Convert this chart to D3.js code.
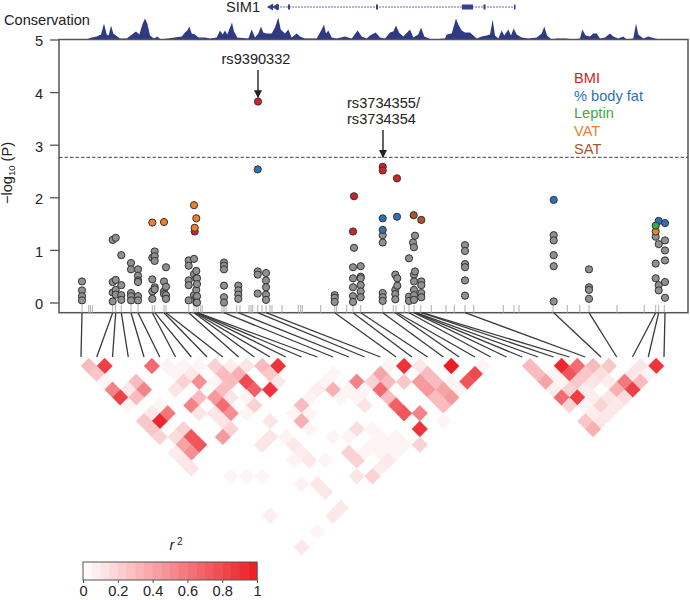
<!DOCTYPE html>
<html>
<head>
<meta charset="utf-8">
<script src="https://cdn.jsdelivr.net/npm/d3@7"></script>
<style>
html, body { margin: 0; padding: 0; background: #fff; }
svg { display: block; }
text { font-family: "Liberation Sans", Arial, sans-serif; fill: #222; }
</style>
</head>
<body>
<svg width="690" height="600"></svg>
<script>
// association results, [position, -log10 P]
const grayPoints = [
  [82,.40],[82,.23],[82,.12],[82,.04],
  [112.7,1.19],[112.7,.39],[112.7,.19],[112.7,.02],[115.7,1.23],[115.7,.43],[115.7,.24],[115.7,.15],
  [121.3,.90],[121.3,.33],[121.3,.14],[121.3,.05],
  [131,.75],[131,.63],[131,.18],[131,.12],[131,.04],
  [138,.63],[138,.51],[138,.42],[138,.39],[138,.12],[138,.04],
  [152.3,.85],[152.3,.44],[152.3,.21],[152.3,.07],[154.7,.97],[154.7,.88],[154.7,.79],[154.7,.29],[154.7,.25],
  [164,.40],[164,.21],[164,.16],[166,.67],[166,.30],[166,.14],[166,.07],
  [188.7,.80],[188.7,.70],[188.7,.42],[188.7,.33],[188.7,.04],
  [194,.83],[194,.54],[194,.14],[196.3,.60],[196.3,.46],[196.3,.24],[196.3,.10],[196.3,0],[197,.46],[197,.35],[197,.12],[197,0],
  [224,.76],[224,.70],[224,.63],[224,.32],[224,.10],[224,0],
  [238.3,.32],[238.3,.23],[238.3,.15],[238.3,.07],
  [257.7,.59],[257.7,.53],[257.7,.17],
  [266,.56],[266,.42],[266,.29],[266,.15],[266,.05],
  [334.7,.14],[334.7,.09],[334.7,.01],
  [353,.67],[353,.46],[353,.29],[353,.12],[353,.01],[354,1.04],
  [360.7,.69],[360.7,.49],[360.7,.46],[360.7,.33],[360.7,.21],[360.7,.10],
  [382.7,1.28],[382.7,1.14],[382.7,.18],[382.7,.10],[382.7,.03],
  [395.3,.53],[395.3,.24],[395.3,.16],[395.3,.06],[397.3,.46],[397.3,.32],
  [409,.84],[409,.11],[409,.03],
  [413,1.14],[414,1.05],[414,.53],[414,.40],[414,.24],[414,.14],[414,.05],[415,1.27],[415,.59],
  [421.3,.40],[421.3,.33],[421.3,.18],[421.3,.10],
  [465,1.09],[465,.98],[465,.73],[465,.67],[465,.42],[465,.13],
  [553.7,1.28],[553.7,1.18],[553.7,.90],[553.7,.69],[553.7,.02],
  [589,.63],[589,.29],[589,.24],[589,.07],
  [655.7,1.25],[655.7,.74],[655.7,.46],[658.7,1.11],[658.7,.33],[658.7,.23],
  [665,1.18],[665,.99],[665,.80],[665,.39],[665,.09]
];
const bmiPoints = [[258,3.82],[194.7,1.35],[353,1.35],[354,2.02],[382.7,2.58],[382.7,2.51],[397,2.36]];
const fatPoints = [[257.7,2.53],[382.7,1.60],[382.7,1.38],[397,1.63],[553.7,1.95],[658.7,1.55],[665,1.51]];
const leptinPoints = [[655.7,1.46]];
const vatPoints = [[152.3,1.52],[164,1.53],[194,1.85],[196.3,1.60],[194.7,1.42],[655.7,1.35]];
const satPoints = [[413.7,1.66],[421.3,1.57]];

const yTicks = [0, 1, 2, 3, 4, 5];
const threshold = 2.76;

const legendNames = ["BMI", "% body fat", "Leptin", "VAT", "SAT"];
const traitColors = ["#d2232a", "#2d72b5", "#38a84a", "#ee7f2d", "#a8552c"];

// all the little marks above the axis
const rugPositions = [82,88.7,90.3,92.3,112.7,115.7,121.3,131,138,152.3,154.7,164,166,188.7,194,196.3,198.3,200.7,202.3,
  222,224,226,236.7,240,249,251,252.7,257.7,262,266,270,272,282,298.3,300.7,302.3,320.7,334.7,336.7,346.7,353,360.7,
  382.7,393.3,396,404.3,409,414,420.7,431.3,446,454.3,465,473.7,503.3,514,519,553,567.3,579.7,589,617,644.3,655.7,658.7,664.3];

// the 38 snps in the LD map, in order
const ldSnps = [82,112.7,115.7,121.3,131,138,152.3,154.7,164,166,188.7,194,195,196.3,197,197.5,224,238.3,257.7,266,
  334.7,353,360.7,382.7,395,397.3,409,413.7,415,416,421.3,422,465,553.7,589,655.7,658.7,665];

// LD by span (j - i): [span, [[i, r2], ...]]
const ldBySpan = [
  [1, [[0,.3],[1,.85],[4,.65],[5,.05],[6,.05],[7,.05],[8,.2],[9,.08],[10,.12],[11,.3],[12,.9],[19,.05],[20,.9],[21,.1],[23,1],[25,.05],[28,.3],[30,.95],[31,.65],[32,.3],[33,.25],[35,.1],[36,.9]]],
  [2, [[0,.25],[5,.05],[6,.1],[8,.3],[9,.35],[11,.25],[15,.05],[18,.4],[21,.3],[24,.8],[28,.3],[29,.05],[30,.75],[31,.25],[32,.15],[34,.12],[35,.05]]],
  [3, [[0,.05],[2,.3],[5,.2],[6,.5],[7,.05],[8,.3],[9,.8],[11,.1],[14,.05],[16,.55],[17,.2],[18,.3],[19,.25],[20,.45],[21,.3],[22,.05],[23,.75],[28,.4],[29,.05],[30,.25],[31,.12],[32,.08],[33,.6],[34,.3]]],
  [4, [[0,.55],[1,.1],[2,.55],[4,.12],[7,.3],[9,.7],[10,.9],[13,.08],[14,.35],[15,.05],[16,.05],[17,.65],[20,.45],[21,.4],[22,.05],[28,.08],[29,.2],[30,.08],[32,.35],[33,.85]]],
  [5, [[0,.85],[1,.3],[5,.3],[6,.45],[7,.12],[8,.05],[12,.05],[14,.05],[15,.05],[17,.3],[20,.3],[21,.45],[28,.65],[29,.85],[30,.08],[31,.12],[32,.15]]],
  [6, [[0,.05],[2,.05],[4,.55],[6,.65],[8,.2],[11,.3],[15,.12],[17,.7],[20,.3],[28,.2],[29,.05],[30,.2],[31,.1]]],
  [7, [[1,.1],[2,.6],[4,.12],[5,.12],[6,.5],[7,.05],[10,.05],[11,.05],[17,.75],[18,.55],[29,.08],[30,.1]]],
  [8, [[0,.25],[1,.95],[5,.12],[8,.12],[10,.35],[19,.05],[28,.25],[29,.1]]],
  [9, [[0,.25],[2,.2],[5,.2],[10,.05],[13,.15],[14,.05],[17,.9],[28,.35]]],
  [10, [[0,.2],[1,.15],[2,.75],[4,.45],[7,.12],[8,.05],[11,.05],[12,.05],[14,.05],[15,.05]]],
  [11, [[1,.4],[2,.75],[6,.12],[8,.1],[13,.05],[14,.05],[15,.05],[16,.2]]],
  [12, [[0,.08],[1,.5],[8,.08],[11,.2],[12,.05],[13,.05],[14,.05]]],
  [13, [[0,.1],[7,.05],[8,.1],[9,.05],[11,.2],[13,.1]]],
  [14, [[0,.12],[12,.08]]],
  [15, [[2,.05],[3,.05],[4,.05],[10,.12],[11,.2]]],
  [16, [[6,.06],[7,.1]]],
  [17, [[7,.1]]],
  [19, [[7,.1]]],
  [20, [[2,.08],[6,.1]]],
  [22, [[4,.05]]],
  [24, [[2,.1]]]
];

const r2Ticks = [0, 0.2, 0.4, 0.6, 0.8, 1];

// conservation track, [position, height]
const conservation = [
  [87,0],[87.3,.5],[91.7,2],[96.7,3],[101,5],[104,16],[106.7,5],[108.7,4],[111,14],[113.3,6],[117.3,3],[120,1],[126.7,1],
  [133.3,6],[136,8],[139.3,5],[142.7,16],[145,21],[147.3,16],[150,4],[154,1],[157.3,3],[160.7,0],
  [181.7,3],[185,7],[187.3,9],[189.3,13],[191.7,6],[195,5],[198.3,2],[205,2],[210,1],[216.7,2],[220,9],[222.7,5],[225,9],[227.3,5],
  [230,12],[232,17],[234,8],[237.3,2],[248.3,1],[251.7,10],[255,2],[258.3,6],[261,13],[263.3,7],[266.7,6],[271.7,6],[275,12],[278.3,22],
  [280.7,10],[285,6],[288.3,10],[291.7,2],[296.7,6],[300,3],[305,1],[316.7,1],[321.7,10],[324,15],[326,6],[328.3,9],[331.7,2],[336.7,1],
  [345,3],[351.7,1],[357.7,9],[361.7,3],[366.7,1],[370,4],[375.7,7],[380,2],[385,1],[390,7],[393.3,8],[396,14],[399,7],[403.3,3],[410,10],
  [413.3,2],[418.3,5],[421,12],[424.3,3],[431.7,0],[445,1],[446.7,5],[451.7,6],[456,21],[458.3,15],[461.7,9],[465,7],[470,7],[473.3,4],
  [476.7,1],[481.7,3],[486.7,4],[490,5],[492.7,20],[495,4],[498.3,1],[501.7,9],[504.3,4],[508.3,10],[511,4],[513.7,11],[516.7,5],[521.7,2],
  [528.3,1],[536.7,2],[541.7,6],[544.3,13],[547,4],[551.7,0],[556.7,1],[561.7,1],[566.7,1],[571.7,0],[580,1],[582.3,10],[585.7,4],[590,3],
  [593.3,6],[596.7,6],[600,1],[605,2],[610,6],[613.3,3],[618.3,1],[623.3,3],[626.7,0],[633.3,1],[636,16],[638.3,5],[643.3,1],[648.3,3],[655,1],[660,0]
];

const geneRange = [268, 515];
const geneExons = [[276,279],[288,290],[376,378],[462,473],[483.5,485.5],[514,515.5]];
const geneArrows = [271, 276];

const svg = d3.select("svg");

const plotLeft = 59, plotRight = 688, plotTop = 39.5, plotBottom = 312.7;

const x = d3.scaleLinear().domain([59, 688]).range([59, 688]);
const y = d3.scaleLinear().domain([0, 5]).range([302.5, 39.5]);

const ldX = d3.scaleLinear().domain([0, 37]).range([81, 664]);
const ldY = d3.scaleLinear().domain([1, 25]).range([366, 555]);
const step = (ldX(1) - ldX(0)) / 2;
const r2Color = d3.scaleLinear().domain([0, 1]).range(["#ffffff", "#ec1c24"]);

// conservation
const consY = d3.scaleLinear().domain([0, 22]).range([plotTop, plotTop - 22]);
svg.append("path")
  .datum(conservation)
  .attr("fill", "#2f3a86")
  .attr("d", d3.area().x(d => x(d[0])).y0(plotTop).y1(d => consY(d[1])));

// gene
svg.append("line")
  .attr("x1", x(geneRange[0])).attr("x2", x(geneRange[1]))
  .attr("y1", 7).attr("y2", 7)
  .attr("stroke", "#6a6eb0").attr("stroke-width", 1).attr("stroke-dasharray", "2,1");
svg.selectAll(".exon")
  .data(geneExons)
  .enter().append("rect")
  .attr("x", d => x(d[0]))
  .attr("width", d => x(d[1]) - x(d[0]))
  .attr("y", 4.5).attr("height", 5)
  .attr("fill", "#3a3f8f");
svg.selectAll(".genearrow")
  .data(geneArrows)
  .enter().append("path")
  .attr("d", d3.symbol(d3.symbolTriangle, 22))
  .attr("transform", d => "translate(" + x(d) + ",7) rotate(-90)")
  .attr("fill", "#3a3f8f");
svg.append("text").attr("x", 226).attr("y", 12).attr("font-size", 14.6).text("SIM1");
svg.append("text").attr("x", 4).attr("y", 25).attr("font-size", 14.6).text("Conservation");

// frame and axis
svg.append("rect")
  .attr("x", plotLeft).attr("y", plotTop)
  .attr("width", plotRight - plotLeft).attr("height", plotBottom - plotTop)
  .attr("fill", "none").attr("stroke", "#555").attr("stroke-width", 1.5);

const yAxis = svg.append("g")
  .attr("transform", "translate(" + plotLeft + ",0)")
  .call(d3.axisLeft(y).tickValues(yTicks).tickSize(9).tickPadding(7).tickFormat(d3.format("d")));
yAxis.select(".domain").remove();
yAxis.selectAll("line").attr("stroke", "#555").attr("stroke-width", 1.3);
yAxis.selectAll("text").attr("dy", "0.44em").attr("font-size", 14.6).attr("font-family", "Liberation Sans").attr("fill", "#222");

const yTitle = svg.append("text")
  .attr("transform", "translate(12,173) rotate(-90)")
  .attr("text-anchor", "middle")
  .attr("font-size", 14.6);
yTitle.append("tspan").text("\u2212log");
yTitle.append("tspan").attr("font-size", 9.5).attr("dy", 3).text("10");
yTitle.append("tspan").attr("dy", -3).text(" (P)");

// threshold
svg.append("line")
  .attr("x1", plotLeft).attr("x2", plotRight)
  .attr("y1", y(threshold)).attr("y2", y(threshold))
  .attr("stroke", "#444").attr("stroke-width", 1).attr("stroke-dasharray", "3.5,2");

// rug
svg.selectAll(".rug")
  .data(rugPositions)
  .enter().append("line")
  .attr("x1", d => x(d)).attr("x2", d => x(d))
  .attr("y1", 305).attr("y2", plotBottom)
  .attr("stroke", "#b0b0b0").attr("stroke-width", 1);

// points, gray first
const layers = [
  [grayPoints, "#909090"],
  [satPoints, traitColors[4]],
  [bmiPoints, traitColors[0]],
  [vatPoints, traitColors[3]],
  [fatPoints, traitColors[1]],
  [leptinPoints, traitColors[2]]
];
layers.forEach(function(layer) {
  svg.append("g").selectAll("circle")
    .data(layer[0])
    .enter().append("circle")
    .attr("cx", d => x(d[0]))
    .attr("cy", d => y(d[1]))
    .attr("r", 3.6)
    .attr("fill", layer[1])
    .attr("stroke", "#333")
    .attr("stroke-width", 1);
});

// legend of traits
svg.selectAll(".trait")
  .data(legendNames)
  .enter().append("text")
  .attr("x", 574)
  .attr("y", (d, i) => 83 + i * 17.7)
  .attr("font-size", 14.6)
  .style("fill", (d, i) => traitColors[i])
  .text(d => d);

// snp labels
svg.append("defs").append("marker")
  .attr("id", "head")
  .attr("viewBox", "0 0 10 10").attr("refX", 9).attr("refY", 5)
  .attr("markerWidth", 8).attr("markerHeight", 10)
  .attr("markerUnits", "userSpaceOnUse").attr("orient", "auto")
  .append("path").attr("d", "M0,0L10,5L0,10Z").attr("fill", "#222");

function arrow(pos, from, to) {
  svg.append("line")
    .attr("x1", x(pos)).attr("x2", x(pos))
    .attr("y1", y(from)).attr("y2", y(to))
    .attr("stroke", "#222").attr("stroke-width", 1.4)
    .attr("marker-end", "url(#head)");
}
svg.append("text").attr("x", 256).attr("y", 64).attr("text-anchor", "middle").attr("font-size", 14.6).text("rs9390332");
arrow(258, 4.42, 3.9);
svg.append("text").attr("x", 347).attr("y", 108).attr("font-size", 14.6).text("rs3734355/");
svg.append("text").attr("x", 347).attr("y", 124).attr("font-size", 14.6).text("rs3734354");
arrow(383, 3.28, 2.76);

// connectors snp -> map
svg.selectAll(".conn")
  .data(ldSnps)
  .enter().append("line")
  .attr("x1", d => x(d)).attr("y1", plotBottom)
  .attr("x2", (d, i) => ldX(i)).attr("y2", 357)
  .attr("stroke", "#3a3a3a").attr("stroke-width", 1.3);

// LD map
const cells = [];
ldBySpan.forEach(function(row) {
  row[1].forEach(function(c) {
    cells.push({ i: c[0], j: c[0] + row[0], span: row[0], r2: c[1] });
  });
});
svg.append("g").selectAll("path")
  .data(cells)
  .enter().append("path")
  .attr("fill", d => r2Color(d.r2))
  .attr("stroke", d => r2Color(d.r2))
  .attr("stroke-width", 0.4)
  .attr("d", function(d) {
    const cx = (ldX(d.i) + ldX(d.j)) / 2, cy = ldY(d.span);
    return "M" + cx + "," + (cy - step) + "L" + (cx + step) + "," + cy + "L" + cx + "," + (cy + step) + "L" + (cx - step) + "," + cy + "Z";
  });

// colour key
const keyX = d3.scaleLinear().domain([0, 1]).range([83, 257]);
const keySteps = d3.range(20);
svg.append("g").selectAll("rect")
  .data(keySteps)
  .enter().append("rect")
  .attr("x", d => keyX(d / 20))
  .attr("width", keyX(0.05) - keyX(0) + 0.5)
  .attr("y", 562).attr("height", 18)
  .attr("fill", d => r2Color((d + 0.5) / 20));
svg.append("rect")
  .attr("x", 83).attr("y", 562).attr("width", 174).attr("height", 18)
  .attr("fill", "none").attr("stroke", "#555").attr("stroke-width", 1);

const keyAxis = svg.append("g")
  .attr("transform", "translate(0,580)")
  .call(d3.axisBottom(keyX).tickValues(r2Ticks).tickSize(3).tickPadding(3).tickFormat(d3.format("")));
keyAxis.select(".domain").remove();
keyAxis.selectAll("line").attr("stroke", "#555");
keyAxis.selectAll("text").attr("font-size", 14.6).attr("font-family", "Liberation Sans").attr("fill", "#222");

const keyTitle = svg.append("text").attr("x", 176).attr("y", 550).attr("text-anchor", "middle").attr("font-size", 14.6);
keyTitle.append("tspan").attr("font-style", "italic").text("r");
keyTitle.append("tspan").attr("font-size", 10).attr("dy", -5).text(" 2");
</script>
</body>
</html>
